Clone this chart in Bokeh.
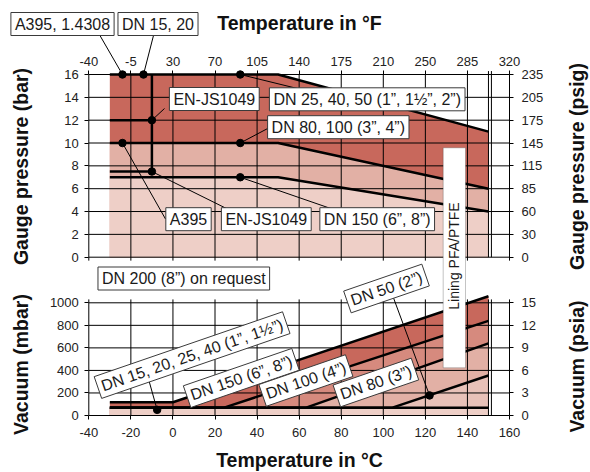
import math
from bokeh.plotting import figure
from bokeh.models import Range1d, LinearAxis, FixedTicker, Label, BoxAnnotation
from bokeh.embed import file_html
from bokeh.resources import INLINE

# ---------------- data ----------------
temp_c_ticks = [-40, -20, 0, 20, 40, 60, 80, 100, 120, 140, 160]
temp_c_labels = ["-40", "-20", "0", "20", "40", "60", "80", "100", "120", "140", "160"]
temp_f_labels = ["-40", "-5", "30", "70", "105", "140", "175", "210", "250", "285", "320"]
bar_ticks = [0, 2, 4, 6, 8, 10, 12, 14, 16]
bar_labels = ["0", "2", "4", "6", "8", "10", "12", "14", "16"]
psig_labels = ["0", "30", "60", "85", "115", "145", "175", "205", "235"]
mbar_ticks = [0, 200, 400, 600, 800, 1000]
mbar_labels = ["0", "200", "400", "600", "800", "1000"]
psia_labels = ["0", "3", "6", "9", "12", "15"]

# gauge pressure limits (°C -> bar)
press_temp = [-30, 50, 150]
press_dn25_50 = [16, 16, 11]
press_dn80_100 = [10, 10, 6]
press_dn150 = [7, 7, 4]
ejs_temp = [-30, -10]
ejs_high = [12, 12]
ejs_low = [7.5, 7.5]
ejs_step_temp = [-10, -10]
ejs_step_bar = [16, 7.5]
press_mark_temp = [-24, -14, -10, 32, 32, -24, -10, 32]
press_mark_bar = [16, 16, 12, 16, 10, 10, 7.5, 7]

# vacuum limits (°C -> mbar)
vac_dn15_40_temp = [-30, 150]
vac_dn15_40 = [68, 68]
vac_dn50_temp = [-30, 104, 150]
vac_dn50 = [68, 68, 355]
vac_dn80_temp = [-30, 63, 150]
vac_dn80 = [68, 68, 640]
vac_dn100_temp = [-30, 24, 150]
vac_dn100 = [68, 68, 840]
vac_dn150_temp = [-30, 0, 150]
vac_dn150 = [118, 118, 1058]
vac_mark_temp = [-7.5, 122]
vac_mark_mbar = [50, 178]

max_temp = 150

# ---------------- layout (frame = whole canvas) ----------------
W, H = 590, 472
X_M40, X_160 = 88.3, 509.0                 # px of -40 / 160 °C
Y_16, Y_0BAR = 74.0, 256.7                 # px of 16 / 0 bar
Y_1000, Y_0MB = 302.3, 415.0               # px of 1000 / 0 mbar
kx = (X_160 - X_M40) / 200.0
ky = (Y_0BAR - Y_16) / 16.0
kv = (Y_0MB - Y_1000) / 1000.0


def xd(sx):
    return -40 + (sx - X_M40) / kx


def yd(sy):
    return 16 - (sy - Y_16) / ky


def yv(sy):
    return (Y_0MB - sy) / kv


x_rng = Range1d(xd(0), xd(W))
y_rng = Range1d(yd(H), yd(0))
v_rng = Range1d(yv(H), yv(0))

FONT = "Liberation Sans"
C_DARK = "#c8685c"
C_MIDDARK = "#d68a7e"
C_MID = "#e2b0a5"
C_LIGHTMID = "#e8c1b8"
C_LIGHT = "#eecfc7"

p = figure(width=W, height=H, x_range=x_rng, y_range=y_rng,
           output_backend="svg", toolbar_location=None,
           x_axis_location=None, y_axis_location=None,
           min_border=0, min_border_left=0, min_border_right=0,
           min_border_top=0, min_border_bottom=0)
p.extra_y_ranges = {"vac": v_rng}
p.outline_line_color = None
p.background_fill_color = "white"
p.border_fill_color = "white"
p.grid.visible = False


def add_axis(side, ticks, labels, loc, standoff, y_range_name="default"):
    ax = LinearAxis(ticker=FixedTicker(ticks=ticks, minor_ticks=[]),
                    major_label_overrides={t: l for t, l in zip(ticks, labels)},
                    fixed_location=loc, y_range_name=y_range_name)
    ax.axis_line_color = None
    ax.major_tick_line_color = "black"
    ax.major_tick_in = 0
    ax.major_tick_out = 4
    ax.minor_tick_line_color = None
    ax.major_label_text_font = FONT
    ax.major_label_text_font_size = "13px"
    ax.major_label_text_color = "#222222"
    ax.major_label_standoff = standoff
    p.add_layout(ax, side)


add_axis("left", bar_ticks, bar_labels, -40, 6)
add_axis("left", mbar_ticks, mbar_labels, -40, 6, "vac")
add_axis("right", bar_ticks, psig_labels, 160, 8)
add_axis("right", mbar_ticks, psia_labels, 160, 8, "vac")
add_axis("above", temp_c_ticks, temp_f_labels, 16, 5)
add_axis("below", temp_c_ticks, temp_c_labels, 0, 8, "vac")

# ---------------- fills ----------------
p.varea(x=press_temp, y1=0, y2=press_dn25_50, fill_color=C_DARK)
p.varea(x=press_temp, y1=0, y2=press_dn80_100, fill_color=C_MID)
p.varea(x=press_temp, y1=0, y2=press_dn150, fill_color=C_LIGHT)

p.varea(x=vac_dn150_temp, y1=0, y2=vac_dn150, fill_color=C_DARK, y_range_name="vac")
p.varea(x=vac_dn100_temp, y1=0, y2=vac_dn100, fill_color=C_MIDDARK, y_range_name="vac")
p.varea(x=vac_dn80_temp, y1=0, y2=vac_dn80, fill_color=C_MID, y_range_name="vac")
p.varea(x=vac_dn50_temp, y1=0, y2=vac_dn50, fill_color=C_LIGHTMID, y_range_name="vac")
p.varea(x=vac_dn15_40_temp, y1=0, y2=vac_dn15_40, fill_color=C_LIGHT, y_range_name="vac")

# ---------------- grid ----------------
GRID = dict(line_color="black", line_width=1)
p.segment(x0=temp_c_ticks, y0=-0.3, x1=temp_c_ticks, y1=bar_ticks[-1], **GRID)
p.segment(x0=temp_c_ticks[0], y0=bar_ticks, x1=temp_c_ticks[-1], y1=bar_ticks, **GRID)
p.segment(x0=temp_c_ticks, y0=mbar_ticks[0], x1=temp_c_ticks, y1=mbar_ticks[-1] + 30,
          y_range_name="vac", **GRID)
p.segment(x0=temp_c_ticks[0], y0=mbar_ticks, x1=temp_c_ticks[-1], y1=mbar_ticks,
          y_range_name="vac", **GRID)
lim_x = [max_temp, max_temp + 1.4]
p.segment(x0=lim_x, y0=0, x1=lim_x, y1=bar_ticks[-1] + 0.3, **GRID)
p.segment(x0=lim_x, y0=0, x1=lim_x, y1=mbar_ticks[-1] + 30, y_range_name="vac", **GRID)

# ---------------- limit lines ----------------
LW = dict(line_color="black", line_width=2.5)
p.line(press_temp, press_dn25_50, **LW)
p.line(press_temp, press_dn80_100, **LW)
p.line(press_temp, press_dn150, **LW)
p.line(ejs_temp, ejs_high, **LW)
p.line(ejs_temp, ejs_low, **LW)
p.line(ejs_step_temp, ejs_step_bar, **LW)

p.line(vac_dn150_temp, vac_dn150, y_range_name="vac", **LW)
p.line(vac_dn100_temp, vac_dn100, y_range_name="vac", **LW)
p.line(vac_dn80_temp, vac_dn80, y_range_name="vac", **LW)
p.line(vac_dn50_temp, vac_dn50, y_range_name="vac", **LW)
p.line(vac_dn15_40_temp, vac_dn15_40, y_range_name="vac", **LW)

# ---------------- leaders + markers ----------------
top_anchor_px = [(98.3, 33), (153.5, 33), (164, 108), (305, 90),
                 (270, 126.5), (165, 218.5), (230, 210), (336, 210)]
p.segment(x0=press_mark_temp, y0=press_mark_bar,
          x1=[xd(a[0]) for a in top_anchor_px], y1=[yd(a[1]) for a in top_anchor_px],
          line_color="black", line_width=1)
bot_anchor_px = [(147, 375), (391, 292)]
p.segment(x0=vac_mark_temp, y0=vac_mark_mbar,
          x1=[xd(a[0]) for a in bot_anchor_px], y1=[yv(a[1]) for a in bot_anchor_px],
          line_color="black", line_width=1, y_range_name="vac")

p.scatter(press_mark_temp, press_mark_bar, size=7.5, color="black")
p.scatter(vac_mark_temp, vac_mark_mbar, size=7.5, color="black", y_range_name="vac")


# ---------------- annotations ----------------
def put(text, sx, sy, angle_deg, **kw):
    p.add_layout(Label(x=xd(sx), y=yd(sy), text=text, angle=math.radians(angle_deg),
                       text_align="center", text_baseline="middle",
                       text_font=FONT, **kw))


def box(text, sx, sy, angle_deg=0.0):
    put(text, sx, sy, angle_deg, text_font_size="16px", text_color="#1a1a1a",
        background_fill_color="white", background_fill_alpha=1.0,
        border_line_color="#3a3a3a", border_line_width=1, padding=(4, 3))


def title(text, sx, sy, angle_deg=0.0):
    put(text, sx, sy, angle_deg, text_font_size="19.5px", text_font_style="bold",
        text_color="#111111")


box("A395, 1.4308", 62, 23.5)
box("DN 15, 20", 157.5, 23.5)
box("EN-JS1049", 213.8, 98.5)
box("DN 25, 40, 50 (1\u201d, 1\u00bd\u201d, 2\u201d)", 366.7, 98.8)
box("DN 80, 100 (3\u201d, 4\u201d)", 337.8, 126.7)
box("A395", 188, 218.7)
box("EN-JS1049", 265.8, 218.7)
box("DN 150 (6\u201d, 8\u201d)", 376.7, 218.7)
box("DN 200 (8\u201d) on request", 183.3, 278)

box("DN 15, 20, 25, 40 (1\u201d, 1\u00bd\u201d)", 191.6, 354.6, 19)
box("DN 150 (6\u201d, 8\u201d)", 240.8, 377.5, 19)
box("DN 100 (4\u201d)", 305.4, 380, 19)
box("DN 80 (3\u201d)", 375.4, 382, 19)
box("DN 50 (2\u201d)", 386, 288, 19)

p.add_layout(BoxAnnotation(left=xd(442.7), right=xd(465), top=yd(147.3), bottom=yd(367.3),
                           fill_color="white", fill_alpha=1.0,
                           line_color="#3a3a3a", line_width=1))
put("Lining PFA/PTFE", 453.8, 255.5, 90, text_font_size="14px", text_color="#1a1a1a")

title("Temperature in \u00b0F", 299, 22)
title("Temperature in \u00b0C", 299, 459)
title("Gauge pressure (bar)", 20, 166, 90)
title("Vacuum (mbar)", 20, 364, 90)
title("Gauge pressure (psig)", 576, 166, 90)
title("Vacuum (psia)", 576, 366, 90)

with open("out.html", "w", encoding="utf-8") as f:
    f.write(file_html(p, INLINE))
